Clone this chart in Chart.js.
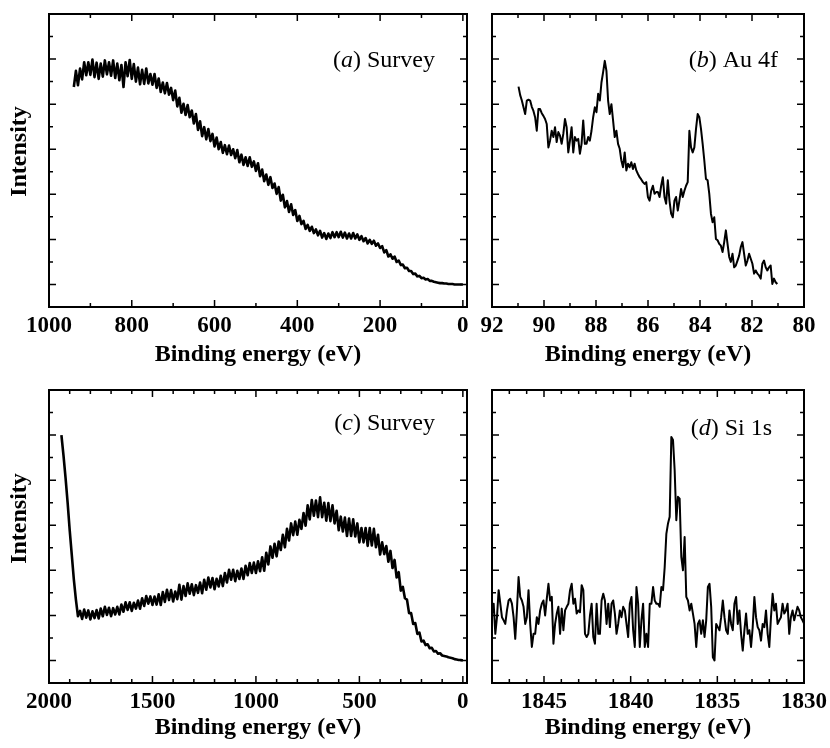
<!DOCTYPE html>
<html>
<head>
<meta charset="utf-8">
<script src="https://cdn.jsdelivr.net/npm/chart.js@4"></script>
<style>
  html, body { margin: 0; padding: 0; background: #fff; }
  #wrap { position: relative; width: 830px; height: 748px; }
  #wrap canvas { position: absolute; }
</style>
</head>
<body>
<div id="wrap">
  <canvas id="chartA" width="480" height="375" style="left:0;top:0"></canvas>
  <canvas id="chartB" width="350" height="375" style="left:480px;top:0"></canvas>
  <canvas id="chartC" width="480" height="373" style="left:0;top:375px"></canvas>
  <canvas id="chartD" width="350" height="373" style="left:480px;top:375px"></canvas>
</div>
<script>
const SERIF = '"Liberation Serif", "Times New Roman", serif';

// (a) survey, 940 -> 0 eV in 5 eV steps
const surveyAStart = 940, surveyAStep = -5;
const surveyA = [
  4.38, 4.74, 4.42, 4.79, 4.55, 4.93, 4.64, 4.93, 4.65, 4.99,
  4.60, 4.92, 4.56, 4.90, 4.61, 4.97, 4.66, 4.93, 4.63, 4.97,
  4.58, 4.90, 4.53, 4.87, 4.38, 4.93, 4.62, 4.98, 4.56, 4.89,
  4.50, 4.81, 4.44, 4.76, 4.45, 4.79, 4.46, 4.67, 4.43, 4.67,
  4.36, 4.57, 4.27, 4.48, 4.24, 4.47, 4.21, 4.36, 4.09, 4.30,
  3.95, 4.14, 3.81, 4.01, 3.76, 3.98, 3.71, 3.86, 3.57, 3.78,
  3.43, 3.62, 3.29, 3.49, 3.22, 3.45, 3.18, 3.34, 3.06, 3.26,
  3.00, 3.16, 2.92, 3.09, 2.89, 3.08, 2.87, 3.00, 2.80, 2.98,
  2.71, 2.88, 2.65, 2.82, 2.63, 2.82, 2.61, 2.73, 2.52, 2.69,
  2.40, 2.55, 2.29, 2.44, 2.21, 2.38, 2.14, 2.24, 2.01, 2.16,
  1.86, 1.99, 1.71, 1.85, 1.61, 1.78, 1.54, 1.65, 1.41, 1.52,
  1.34, 1.41, 1.23, 1.32, 1.19, 1.28, 1.14, 1.22, 1.09, 1.19,
  1.04, 1.14, 1.01, 1.13, 1.03, 1.16, 1.05, 1.16, 1.05, 1.17,
  1.04, 1.15, 1.02, 1.13, 1.02, 1.14, 1.02, 1.11, 0.99, 1.07,
  0.96, 1.03, 0.91, 0.99, 0.90, 0.97, 0.86, 0.91, 0.81, 0.85,
  0.71, 0.76, 0.62, 0.67, 0.57, 0.62, 0.50, 0.53, 0.43, 0.44,
  0.36, 0.37, 0.30, 0.30, 0.23, 0.24, 0.18, 0.19, 0.14, 0.15,
  0.11, 0.12, 0.08, 0.08, 0.06, 0.05, 0.04, 0.03, 0.03, 0.02,
  0.02, 0.01, 0.01, 0.01, 0.00, 0.00, 0.00, 0.00, 0.00
];

// (b) Au 4f, 90.98 -> 81 eV
const au4fStart = 90.98, au4fStep = -0.0638;
const au4f = [
  4.39, 4.20, 4.08, 3.93, 3.78, 4.08, 4.10, 4.08, 3.94, 3.85,
  3.71, 3.41, 3.89, 3.89, 3.80, 3.74, 3.67, 3.56, 3.04, 3.19,
  3.41, 3.27, 3.49, 3.16, 3.38, 3.30, 3.12, 3.34, 3.67, 3.49,
  2.93, 3.19, 3.49, 2.93, 3.27, 3.19, 3.23, 2.90, 3.12, 3.64,
  3.12, 3.12, 3.27, 3.19, 3.41, 3.71, 3.93, 3.82, 4.23, 4.08,
  4.48, 4.71, 4.96, 4.74, 4.08, 3.78, 4.00, 3.64, 3.27, 3.41,
  3.12, 3.01, 2.75, 2.60, 2.93, 2.53, 2.68, 2.60, 2.71, 2.56,
  2.68, 2.53, 2.45, 2.38, 2.33, 2.27, 2.23, 2.27, 1.94, 1.86,
  2.08, 2.19, 2.01, 2.05, 2.05, 1.94, 2.19, 2.38, 1.94, 1.79,
  2.31, 1.86, 1.57, 1.49, 1.86, 1.94, 1.64, 1.86, 2.12, 1.94,
  2.08, 2.19, 2.27, 3.41, 3.04, 2.93, 3.04, 3.45, 3.78, 3.71,
  3.45, 3.12, 2.75, 2.34, 2.31, 2.01, 1.57, 1.38, 1.49, 1.01,
  0.98, 0.90, 0.86, 0.72, 0.94, 1.20, 0.90, 0.61, 0.50, 0.68,
  0.38, 0.42, 0.53, 0.64, 0.83, 0.94, 0.68, 0.42, 0.53, 0.68,
  0.57, 0.46, 0.24, 0.31, 0.24, 0.20, 0.13, 0.46, 0.53, 0.38,
  0.31, 0.38, 0.42, 0.01, 0.13, 0.05, 0.01
];

// (c) survey, 1940 -> 0 eV in 10 eV steps
const surveyCStart = 1940, surveyCStep = -10;
const surveyC = [
  5.00, 4.55, 4.05, 3.50, 2.89, 2.35, 1.80, 1.35, 0.98, 1.10,
  0.92, 1.13, 0.95, 1.11, 0.91, 1.09, 0.94, 1.12, 0.93, 1.15,
  0.98, 1.19, 1.01, 1.17, 0.98, 1.16, 1.02, 1.19, 1.02, 1.24,
  1.08, 1.29, 1.12, 1.29, 1.10, 1.28, 1.15, 1.33, 1.15, 1.38,
  1.21, 1.43, 1.26, 1.42, 1.23, 1.42, 1.24, 1.47, 1.23, 1.52,
  1.30, 1.57, 1.34, 1.56, 1.31, 1.53, 1.36, 1.68, 1.35, 1.65,
  1.43, 1.71, 1.48, 1.69, 1.45, 1.67, 1.50, 1.73, 1.49, 1.79,
  1.57, 1.84, 1.62, 1.83, 1.58, 1.81, 1.64, 1.88, 1.65, 1.94,
  1.73, 2.01, 1.79, 2.01, 1.76, 1.99, 1.81, 2.04, 1.81, 2.10,
  1.89, 2.16, 1.94, 2.17, 1.94, 2.20, 1.98, 2.29, 1.99, 2.39,
  2.13, 2.53, 2.28, 2.59, 2.31, 2.64, 2.45, 2.79, 2.51, 2.92,
  2.66, 3.04, 2.78, 3.08, 2.79, 3.12, 2.92, 3.27, 2.99, 3.44,
  3.13, 3.56, 3.21, 3.55, 3.18, 3.62, 3.18, 3.50, 3.10, 3.49,
  3.09, 3.44, 3.04, 3.32, 2.89, 3.19, 2.86, 3.17, 2.76, 3.15,
  2.76, 3.13, 2.75, 3.04, 2.62, 2.94, 2.62, 2.94, 2.54, 2.94,
  2.55, 2.92, 2.51, 2.79, 2.35, 2.62, 2.36, 2.54, 2.19, 2.43,
  2.05, 2.23, 1.84, 1.96, 1.55, 1.63, 1.38, 1.35, 1.05, 1.05,
  0.81, 0.83, 0.59, 0.62, 0.42, 0.44, 0.34, 0.36, 0.27, 0.28,
  0.20, 0.21, 0.15, 0.16, 0.11, 0.10, 0.09, 0.07, 0.06, 0.05,
  0.03, 0.02, 0.01, 0.01, 0.00
];

// (d) Si 1s, 1848 -> 1830 eV
const si1sStart = 1848, si1sStep = -0.0958;
const si1s = [
  1.04, 1.26, 0.59, 0.96, 1.56, 1.26, 0.96, 0.89, 0.81, 1.11,
  1.33, 1.37, 1.26, 0.96, 0.48, 1.11, 1.85, 1.41, 1.33, 1.19,
  0.81, 0.96, 1.56, 0.81, 0.30, 0.59, 0.59, 0.96, 0.81, 1.11,
  1.26, 1.33, 1.00, 1.37, 1.70, 1.33, 1.41, 0.37, 0.81, 1.04,
  1.19, 0.59, 1.15, 0.67, 1.11, 1.19, 1.26, 1.56, 1.70, 1.26,
  1.37, 1.04, 1.11, 1.07, 1.67, 1.56, 0.59, 0.52, 0.59, 1.00,
  1.26, 0.52, 0.37, 1.26, 0.59, 0.59, 1.33, 1.48, 1.33, 0.81,
  1.26, 0.74, 1.26, 1.33, 1.04, 0.59, 0.81, 1.11, 0.96, 1.19,
  1.11, 0.81, 0.52, 1.26, 1.41, 0.67, 0.30, 1.63, 1.26, 0.30,
  0.89, 1.26, 0.30, 0.59, 0.30, 1.26, 1.26, 1.63, 1.33, 1.26,
  1.26, 1.19, 1.63, 1.56, 2.07, 2.81, 3.04, 3.19, 4.96, 4.89,
  4.22, 3.11, 3.63, 3.59, 2.30, 2.00, 2.74, 1.41, 1.33, 1.11,
  1.26, 1.04, 0.81, 0.30, 0.81, 0.89, 0.59, 0.89, 0.52, 0.89,
  1.63, 1.70, 1.19, 0.07, 0.00, 0.81, 0.74, 0.67, 0.96, 1.33,
  0.96, 0.67, 0.59, 1.11, 0.81, 0.67, 1.26, 1.41, 0.81, 1.11,
  0.59, 0.22, 0.67, 1.04, 0.59, 0.67, 0.30, 0.74, 1.41, 0.96,
  0.74, 0.67, 0.44, 0.81, 0.74, 1.11, 0.59, 0.30, 0.96, 1.48,
  1.11, 1.26, 0.81, 0.89, 0.96, 1.26, 1.04, 1.11, 1.26, 0.59,
  0.96, 1.11, 0.89, 1.04, 1.19, 1.11, 0.96, 0.89, 0.81
];

// tick values
const ticksA = [0, 200, 400, 600, 800, 1000];
const minorA = [100, 300, 500, 700, 900];
const ticksB = [80, 82, 84, 86, 88, 90, 92];
const minorB = [81, 83, 85, 87, 89, 91];
const ticksC = [0, 500, 1000, 1500, 2000];
const minorC = [100, 200, 300, 400, 600, 700, 800, 900, 1100, 1200, 1300, 1400, 1600, 1700, 1800, 1900];
const ticksD = [1830, 1835, 1840, 1845];
const minorD = [1831, 1832, 1833, 1834, 1836, 1837, 1838, 1839, 1841, 1842, 1843, 1844, 1846, 1847];
const ticksY = [0, 1, 2, 3, 4, 5];
const minorY = [0.5, 1.5, 2.5, 3.5, 4.5, 5.5];

const xTitle = 'Binding energy (eV)';
const yTitle = 'Intensity';

function toPoints(start, step, values) {
  return values.map((v, i) => ({ x: start + i * step, y: v }));
}

// frame, inward ticks on all sides, panel notes
const framePlugin = {
  id: 'frame',
  afterDraw(chart, args, o) {
    const { ctx, chartArea: a, scales: { x, y } } = chart;
    ctx.save();
    ctx.strokeStyle = '#000';
    ctx.fillStyle = '#000';
    ctx.lineWidth = 2;
    ctx.strokeRect(a.left, a.top, a.right - a.left, a.bottom - a.top);

    ctx.lineWidth = 1.5;
    ctx.beginPath();
    const xt = (vals, len) => vals.forEach(v => {
      const p = x.getPixelForValue(v);
      ctx.moveTo(p, a.top); ctx.lineTo(p, a.top + len);
      ctx.moveTo(p, a.bottom); ctx.lineTo(p, a.bottom - len);
    });
    const yt = (vals, len) => vals.forEach(v => {
      const p = y.getPixelForValue(v);
      ctx.moveTo(a.left, p); ctx.lineTo(a.left + len, p);
      ctx.moveTo(a.right, p); ctx.lineTo(a.right - len, p);
    });
    xt(o.major, 7); xt(o.minor, 4);
    yt(ticksY, 7); yt(minorY, 4);
    ctx.stroke();

    if (o.yTitleX) {
      ctx.save();
      ctx.font = 'bold 24px ' + SERIF;
      ctx.textAlign = 'center';
      ctx.textBaseline = 'middle';
      ctx.translate(o.yTitleX, (a.top + a.bottom) / 2 + o.yTitleShift);
      ctx.rotate(-Math.PI / 2);
      ctx.fillText(yTitle, 0, 0);
      ctx.restore();
    }

    // note like "(a) Survey" with italic letter
    const up = '24px ' + SERIF, it = 'italic 24px ' + SERIF;
    const n = o.note;
    ctx.textAlign = 'left';
    ctx.textBaseline = 'alphabetic';
    ctx.font = up;
    const w1 = ctx.measureText('(').width;
    const w3 = ctx.measureText(') ' + n.rest).width;
    ctx.font = it;
    const w2 = ctx.measureText(n.letter).width;
    let px = n.right - (w1 + w2 + w3);
    ctx.font = up; ctx.fillText('(', px, n.base); px += w1;
    ctx.font = it; ctx.fillText(n.letter, px, n.base); px += w2;
    ctx.font = up; ctx.fillText(') ' + n.rest, px, n.base);
    ctx.restore();
  }
};

function makeChart(id, points, p) {
  return new Chart(document.getElementById(id), {
    type: 'line',
    data: {
      datasets: [{
        data: points,
        borderColor: '#000',
        borderWidth: p.lineWidth,
        borderJoinStyle: 'round',
        pointRadius: 0,
        tension: 0,
        fill: false
      }]
    },
    options: {
      responsive: false,
      animation: false,
      parsing: false,
      layout: { padding: { top: p.padTop, right: p.padRight, left: 0, bottom: 0 } },
      plugins: {
        legend: { display: false },
        tooltip: { enabled: false },
        frame: { major: p.major, minor: p.minor, note: p.note, yTitleX: p.yTitleX, yTitleShift: p.yTitleShift }
      },
      scales: {
        x: {
          type: 'linear',
          reverse: true,
          min: p.xMin,
          max: p.xMax,
          grid: { display: false, drawTicks: false },
          border: { display: false },
          ticks: {
            color: '#000',
            font: { family: SERIF, size: 23, weight: 'bold' },
            padding: p.tickPad,
            maxRotation: 0,
            autoSkip: false,
            callback: v => String(v)
          },
          afterBuildTicks: s => { s.ticks = p.major.map(v => ({ value: v })); },
          afterFit: s => { s.height = p.xH; s.paddingLeft = 0; s.paddingRight = 0; },
          title: {
            display: true,
            text: xTitle,
            color: '#000',
            font: { family: SERIF, size: 24, weight: 'bold' },
            padding: { top: 0, bottom: p.titlePad }
          }
        },
        y: {
          type: 'linear',
          min: -0.5,
          max: 6,
          grid: { display: false, drawTicks: false },
          border: { display: false },
          ticks: { display: false },
          afterFit: s => { s.width = p.yW; s.paddingTop = 0; s.paddingBottom = 0; }
        }
      }
    },
    plugins: [framePlugin]
  });
}

makeChart('chartA', toPoints(surveyAStart, surveyAStep, surveyA), {
  xMin: -10, xMax: 1000, major: ticksA, minor: minorA, lineWidth: 2.6,
  padTop: 14, padRight: 13, yW: 49, xH: 68, tickPad: 5, titlePad: 6,
  yTitleX: 20, yTitleShift: -9,
  note: { letter: 'a', rest: 'Survey', right: 435, base: 66.5 }
});
makeChart('chartB', toPoints(au4fStart, au4fStep, au4f), {
  xMin: 80, xMax: 92, major: ticksB, minor: minorB, lineWidth: 2,
  padTop: 14, padRight: 26, yW: 12, xH: 68, tickPad: 5, titlePad: 6,
  note: { letter: 'b', rest: 'Au 4f', right: 298, base: 66.5 }
});
makeChart('chartC', toPoints(surveyCStart, surveyCStep, surveyC), {
  xMin: -20, xMax: 2000, major: ticksC, minor: minorC, lineWidth: 2.6,
  padTop: 15, padRight: 13, yW: 49, xH: 65, tickPad: 5, titlePad: 6,
  yTitleX: 20, yTitleShift: -18,
  note: { letter: 'c', rest: 'Survey', right: 435, base: 55 }
});
makeChart('chartD', toPoints(si1sStart, si1sStep, si1s), {
  xMin: 1830, xMax: 1848, major: ticksD, minor: minorD, lineWidth: 2,
  padTop: 15, padRight: 26, yW: 12, xH: 65, tickPad: 5, titlePad: 6,
  note: { letter: 'd', rest: 'Si 1s', right: 292, base: 60 }
});
</script>
</body>
</html>
